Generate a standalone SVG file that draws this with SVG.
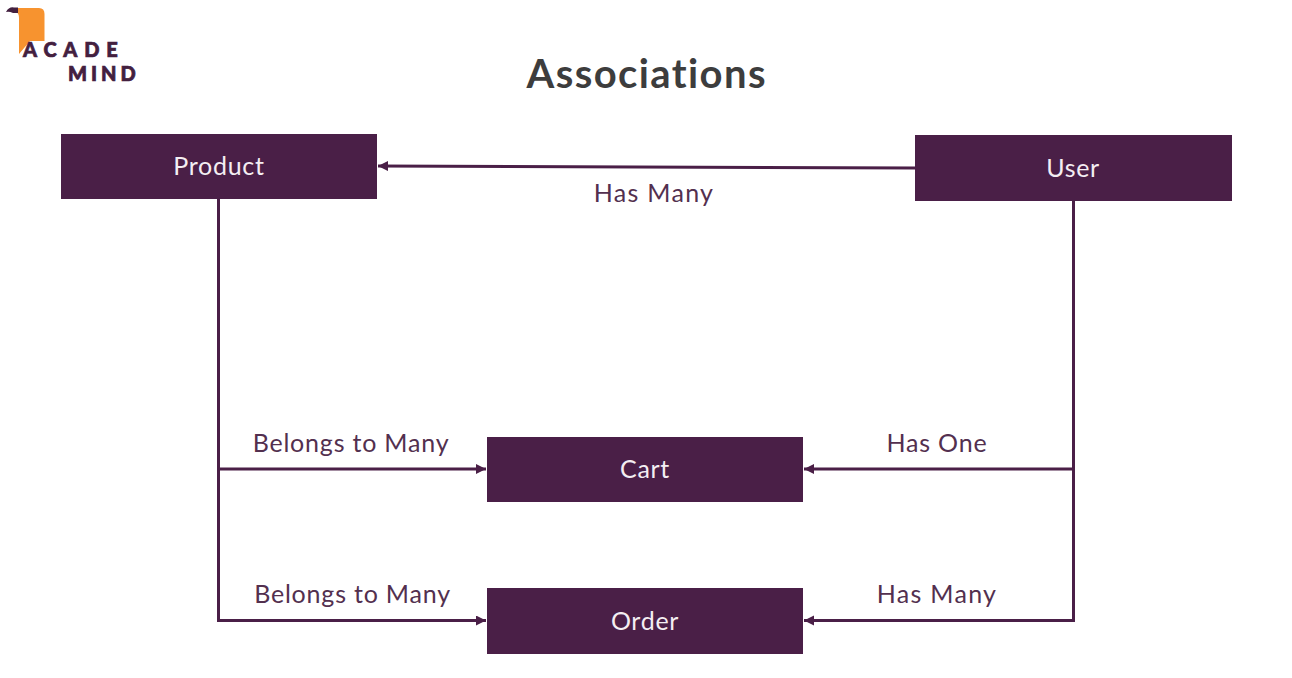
<svg xmlns="http://www.w3.org/2000/svg" width="1292" height="678" viewBox="0 0 1292 678">
<style>
.box{fill:#4a1f47}
.nt{font:400 25px Lato,"Open Sans",sans-serif;fill:#f4eef3;text-anchor:middle;letter-spacing:.7px}
.lb{font:400 25px Lato,"Open Sans",sans-serif;fill:#53304f;text-anchor:middle;letter-spacing:.8px}
.hm{letter-spacing:1.3px}
.ln{fill:none;stroke:#4a1f47;stroke-width:3}
.logo{font:900 20px Lato,sans-serif;fill:#43203f;stroke:#43203f;stroke-width:.7;letter-spacing:6.8px}
</style>
<defs><marker id="a" markerUnits="userSpaceOnUse" markerWidth="12" markerHeight="12" refX="10" refY="5" orient="auto"><path d="M0 0L10 5L0 10Z" fill="#4a1f47"/></marker></defs>
<rect width="1292" height="678" fill="#fff"/>
<g id="logo">
<path d="M17 8H39Q44.500 8 44.500 14V41H30L19 54V18Q19 13 16 12Z" fill="#f7932f"/>
<path d="M6 12Q9 6.500 14 7.500H18V13H13Q9 11 6 12Z" fill="#43203f"/>
<text class="logo" x="23" y="57">ACADE</text>
<text class="logo" x="68" y="81" style="letter-spacing:4px">MIND</text>
</g>
<text x="646" y="88" font-family="Lato,sans-serif" font-weight="700" font-size="40" fill="#3d3d3d" text-anchor="middle" textLength="239" lengthAdjust="spacing" style="font-variant-ligatures:none">Associations</text>
<g id="connectors">
<path class="ln" d="M915 168L378 166" marker-end="url(#a)"/>
<path class="ln" d="M218.500 199V620.500H486" marker-end="url(#a)"/>
<path class="ln" d="M218.500 469H486" marker-end="url(#a)"/>
<path class="ln" d="M1073.500 201V620.500H804" marker-end="url(#a)"/>
<path class="ln" d="M1073.500 469H804" marker-end="url(#a)"/>
</g>
<g id="product"><rect class="box" x="61" y="134" width="316" height="65"/><text class="nt" x="219" y="175">Product</text></g>
<g id="user"><rect class="box" x="915" y="135" width="317" height="66"/><text class="nt" x="1073" y="177">User</text></g>
<g id="cart"><rect class="box" x="487" y="437" width="316" height="65"/><text class="nt" x="645" y="478">Cart</text></g>
<g id="order"><rect class="box" x="487" y="588" width="316" height="66"/><text class="nt" x="645" y="630">Order</text></g>
<g id="labels">
<text class="lb hm" x="654" y="202">Has Many</text>
<text class="lb" x="351" y="452">Belongs to Many</text>
<text class="lb" x="352.500" y="603">Belongs to Many</text>
<text class="lb" x="937" y="452">Has One</text>
<text class="lb hm" x="937" y="603">Has Many</text>
</g>
</svg>
